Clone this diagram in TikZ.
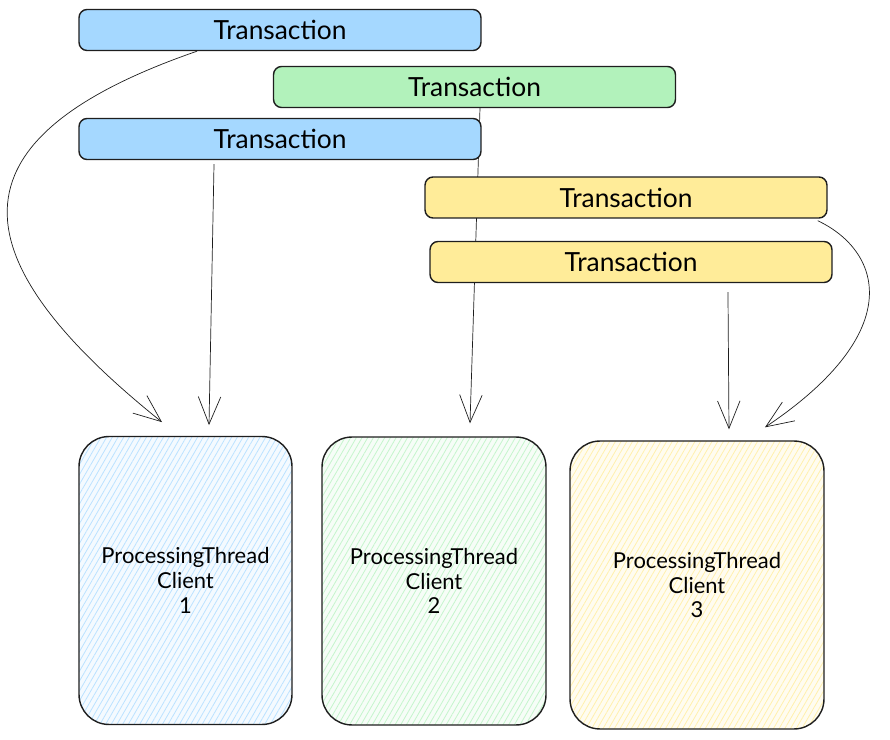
\documentclass[tikz,border=0pt]{standalone}
\usepackage{fontspec}
\setmainfont{Lato}
\usetikzlibrary{arrows.meta,patterns.meta}
\pgfdeclarelayer{back}
\pgfsetlayers{back,main}
\definecolor{tblue}{HTML}{A5D8FF}
\definecolor{tgreen}{HTML}{B2F2BB}
\definecolor{tyellow}{HTML}{FFEC99}
\definecolor{ink}{HTML}{1E1E1E}
\begin{document}
\begin{tikzpicture}[x=0.02cm,y=-0.02cm,line width=0.8pt,
  tx/.style={draw=ink,rounded corners=0.16cm,minimum width=8.04cm,minimum height=0.82cm,inner sep=0pt,font=\fontsize{15}{17}\selectfont},
  cl/.style={draw=ink,rounded corners=0.6cm,minimum height=5.76cm,inner sep=0pt,align=center,font=\fontsize{12.5}{14}\selectfont,
    pattern={Lines[angle=60,distance=2.8pt,line width=0.45pt]}},
  arr/.style={draw=ink,-{Straight Barb[length=0.55cm,width=0.45cm]}}]
\useasboundingbox (0,0) rectangle (890,740);
\node[tx,fill=tblue] (t1) at (280,30) {Transaction};
\node[tx,fill=tgreen] (t2) at (474.5,87) {Transaction};
\node[tx,fill=tblue] (t3) at (280,139) {Transaction};
\node[tx,fill=tyellow] (t4) at (626,197.5) {Transaction};
\node[tx,fill=tyellow] (t5) at (631,262) {Transaction};
\node[cl,minimum width=4.26cm,pattern color=tblue!75,preaction={fill=tblue!12}] (c1) at (185.5,580.5) {ProcessingThread\\Client\\1};
\node[cl,minimum width=4.48cm,pattern color=tgreen!75,preaction={fill=tgreen!12}] (c2) at (434,581) {ProcessingThread\\Client\\2};
\node[cl,minimum width=5.08cm,pattern color=tyellow!80,preaction={fill=tyellow!15}] (c3) at (697,585) {ProcessingThread\\Client\\3};
\begin{pgfonlayer}{back}
\draw[arr] ([xshift=-1.66cm]t1.south) .. controls (-60,140) and (-40,260) .. ([xshift=-0.47cm,yshift=0.28cm]c1.north);
\draw[arr] ([xshift=-1.32cm,yshift=-0.08cm]t3.south) -- ([xshift=0.47cm,yshift=0.22cm]c1.north);
\draw[arr] ([xshift=0.11cm]t2.south) -- ([xshift=0.72cm,yshift=0.26cm]c2.north);
\draw[arr] ([xshift=1.94cm,yshift=-0.18cm]t5.south) -- ([xshift=0.64cm,yshift=0.22cm]c3.north);
\draw[arr] ([xshift=-0.2cm,yshift=-0.04cm]t4.south east) .. controls (880,250) and (910,330) .. ([xshift=1.36cm,yshift=0.26cm]c3.north);
\end{pgfonlayer}
\end{tikzpicture}
\end{document}
